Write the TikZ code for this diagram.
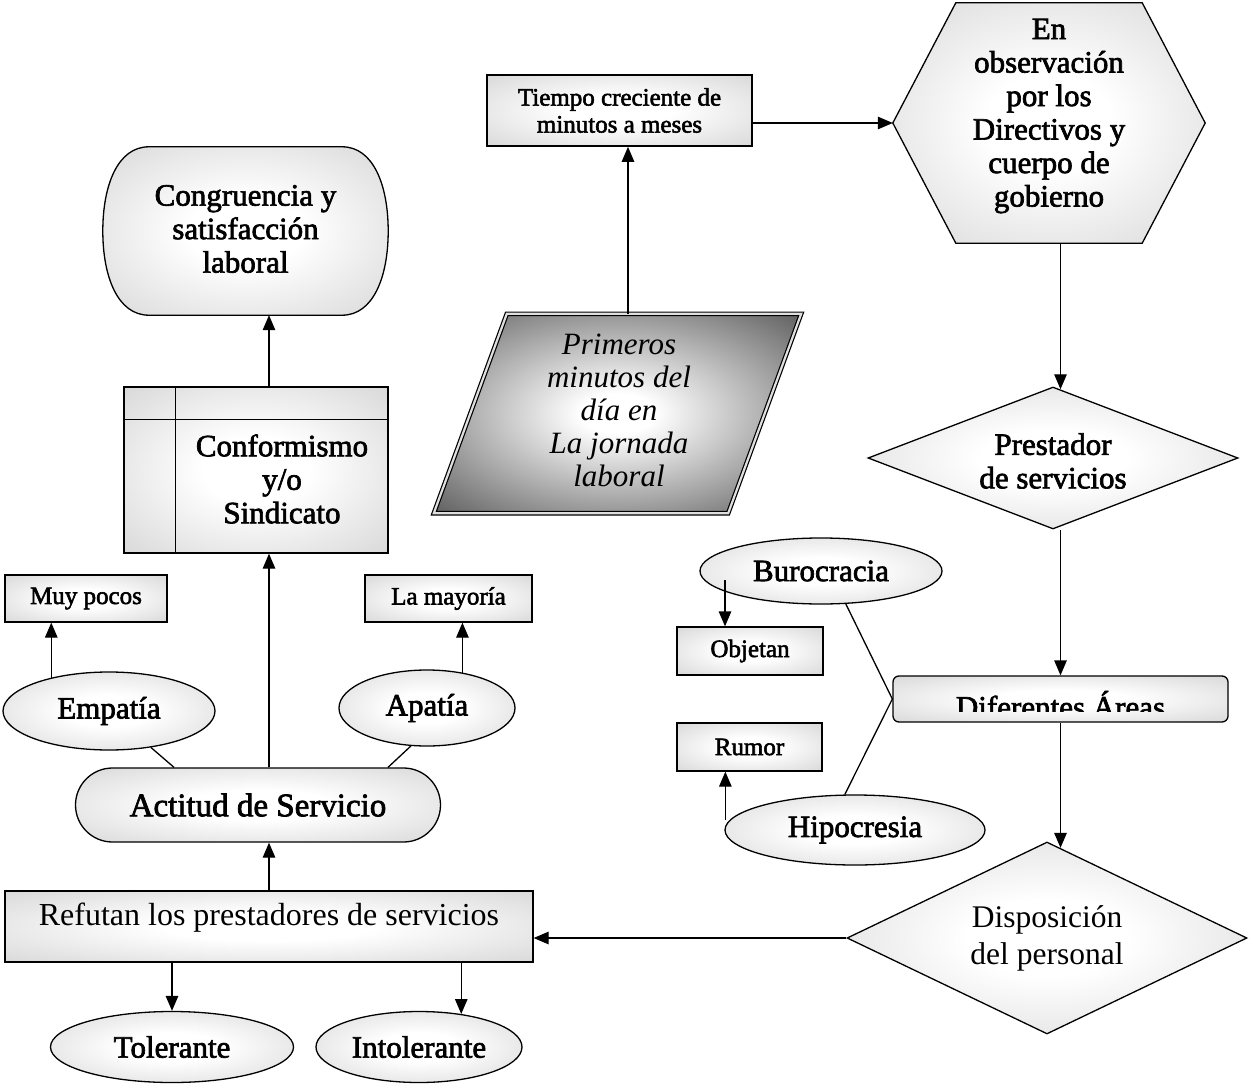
\documentclass[tikz,border=0pt]{standalone}
\usepackage{fontspec}
\setmainfont{Liberation Serif}
\newfontfamily\ch{Liberation Serif}[FakeBold=2.2]
\usetikzlibrary{shapes.geometric,shapes.misc,arrows.meta,calc}
\definecolor{shg}{gray}{0.80}
\definecolor{dkg}{gray}{0.36}
\pgfdeclareradialshading{lightsh}{\pgfpoint{0bp}{0bp}}{color(0bp)=(white); color(10bp)=(white); color(44bp)=(shg); color(50bp)=(shg)}
\pgfdeclareradialshading{darksh}{\pgfpoint{0bp}{0bp}}{color(0bp)=(white); color(5bp)=(white); color(36bp)=(dkg); color(50bp)=(dkg)}
\tikzset{
  ln/.style={line width=1.3pt},
  arr/.style={ln,-{Triangle[length=15pt,width=12.5pt]}},
  sh/.style={draw,ln,shade,shading=lightsh},
  boxn/.style={sh,rectangle,inner sep=0pt},
  elln/.style={sh,ellipse,inner sep=0pt},
  big/.style={font=\ch\fontsize{31}{33.5}\selectfont,align=center},
  small/.style={font=\ch\fontsize{25}{27}\selectfont,align=center},
  tms/.style={font=\fontsize{31.5}{37}\selectfont,align=center},
}
\begin{document}
\begin{tikzpicture}[x=1pt,y=-1pt]
\useasboundingbox (0,0) rectangle (1250,1086);
% Congruencia
\node[minimum width=285pt,minimum height=168pt,inner sep=0pt] (congr) at (245.5,231) {};
\path[sh] ($(congr.north west)+(46,0)$) -- ($(congr.north east)+(-46,0)$)
  .. controls +(31,0) and +(0,-46) .. (congr.east)
  .. controls +(0,46) and +(31,0) .. ($(congr.south east)+(-46,0)$)
  -- ($(congr.south west)+(46,0)$)
  .. controls +(-31,0) and +(0,46) .. (congr.west)
  .. controls +(0,-46) and +(-31,0) .. ($(congr.north west)+(46,0)$) -- cycle;
\node[big] (congrt) at (245.5,229) {Congruencia y\\satisfacción\\laboral};
% Conformismo
\node[boxn,minimum width=264pt,minimum height=166pt] (conf) at (256,470) {};
\draw[ln] ($(conf.north west)+(52,0)$) -- ($(conf.south west)+(52,0)$);
\draw[ln] ($(conf.north west)+(0,33)$) -- ($(conf.north east)+(0,33)$);
\node[big] (conft) at (282,479) {Conformismo\\y/o\\Sindicato};
% small boxes left
\node[boxn,small,minimum width=162pt,minimum height=47pt] (muy) at (86,598.5) {Muy pocos};
\node[boxn,small,minimum width=167pt,minimum height=47pt] (may) at (448.5,598.5) {La mayoría};
% ellipses
\node[elln,big,minimum width=212pt,minimum height=78pt] (emp) at (109,711) {Empatía};
\node[elln,big,minimum width=176pt,minimum height=76pt] (apa) at (427,708) {Apatía};
\node[sh,rounded rectangle,minimum width=365pt,minimum height=74pt,inner sep=0pt,font=\ch\fontsize{33}{36}\selectfont] (act) at (258,805) {Actitud de Servicio};
\node[boxn,tms,font=\fontsize{32}{37}\selectfont,minimum width=528pt,minimum height=71pt,text height=20pt,text depth=23pt] (ref) at (269,926.5) {Refutan los prestadores de servicios};
\node[elln,big,minimum width=243pt,minimum height=71pt] (tol) at (172,1047) {Tolerante};
\node[elln,big,minimum width=206pt,minimum height=71pt] (intol) at (419,1047) {Intolerante};
% right column
\node[sh,diamond,shape aspect=2.1,minimum width=400pt,minimum height=192pt,inner sep=0pt,tms] (disp) at (1047,938) {Disposición\\del personal};
\node[sh,rectangle,rounded corners=6pt,minimum width=335pt,minimum height=46pt] (dif) at (1060.5,699) {};
\begin{scope}
  \clip ($(dif.north west)+(2,2)$) rectangle ($(dif.south east)+(-2,-11)$);
  \node[big,anchor=base] (dift) at (1060.5,717.5) {Diferentes Áreas};
\end{scope}
\node[sh,diamond,shape aspect=2.6,minimum width=370pt,minimum height=142pt,inner sep=0pt] (prest) at (1053,458) {};
\node[big] (prestt) at (1053,461) {Prestador\\de servicios};
% hexagon
\node[minimum width=312pt,minimum height=240pt,inner sep=0pt] (hex) at (1049,123) {};
\path[sh] (hex.west) -- ($(hex.north west)+(63,0)$) -- ($(hex.north east)+(-63,0)$) -- (hex.east)
  -- ($(hex.south east)+(-63,0)$) -- ($(hex.south west)+(63,0)$) -- cycle;
\node[big] (hext) at (1049,116) {En\\observación\\por los\\Directivos y\\cuerpo de\\gobierno};
% tiempo
\node[boxn,small,line width=1.7pt,minimum width=265pt,minimum height=71pt] (tiempo) at (619.5,110.5) {Tiempo creciente de\\minutos a meses};
% primeros
\node[minimum width=367pt,minimum height=199pt,inner sep=0pt] (prim) at (617.5,413.5) {};
\path[draw,line width=1.2pt,double=gray!25,double distance=2.2pt,shade,shading=darksh]
  ($(prim.north west)+(73,0)$) -- (prim.north east) -- ($(prim.south east)+(-73,0)$) -- (prim.south west) -- cycle;
\node[font=\itshape\fontsize{31}{33}\selectfont,align=center] (primt) at (619,410) {Primeros\\minutos del\\día en\\La jornada\\laboral};
% burocracia etc
\node[elln,big,minimum width=242pt,minimum height=66pt] (bur) at (821,571) {Burocracia};
\node[boxn,small,minimum width=146pt,minimum height=48pt] (obj) at (750,651) {Objetan};
\node[boxn,small,minimum width=145pt,minimum height=48pt] (rum) at (749.5,747) {Rumor};
\node[elln,big,minimum width=260pt,minimum height=70pt] (hip) at (855,830) {Hipocresia};
% connectors
\draw[arr] (ref.north) -- (ref.north |- act.south);
\draw[arr] (ref.north |- act.north) -- (ref.north |- conf.south);
\draw[arr] (ref.north |- conf.north) -- (ref.north |- congr.south);
\draw[arr] (emp.150) -- (emp.150 |- muy.south);
\draw[arr] (apa.45) -- (apa.45 |- may.south);
\draw[ln] (emp.-41) -- ($(act.north)+(-84,0)$);
\draw[ln] (apa.-113) -- ($(act.north)+(130,0)$);
\draw[arr] (tol.north |- ref.south) -- (tol.north);
\draw[arr] (intol.38 |- ref.south) -- (intol.38);
\draw[arr] (disp.west) -- (disp.west -| ref.east);
\draw[arr] (dif.south) -- ($(disp.north)+(13.5,6.5)$);
\draw[arr] (prest.south -| dif.north) -- (dif.north);
\draw[arr] (hex.south -| dif.north) -- ($(prest.north -| dif.north)+(0,2.9)$);
\draw[arr] (hex.west -| tiempo.east) -- (hex.west);
\draw[arr] ($(prim.north)+(10.5,0)$) -- ($(tiempo.south)+(8.5,0)$);
\coordinate (burout) at ($(bur.center)+(-96,9)$);
\draw[arr] (burout) -- (burout |- obj.north);
\coordinate (hipout) at ($(hip.west)+(1,-10)$);
\draw[arr] (hipout) -- (hipout |- rum.south);
\draw[ln] (bur.-53) -- (dif.west);
\draw[ln] (hip.106) -- (dif.west);
\end{tikzpicture}
\end{document}
